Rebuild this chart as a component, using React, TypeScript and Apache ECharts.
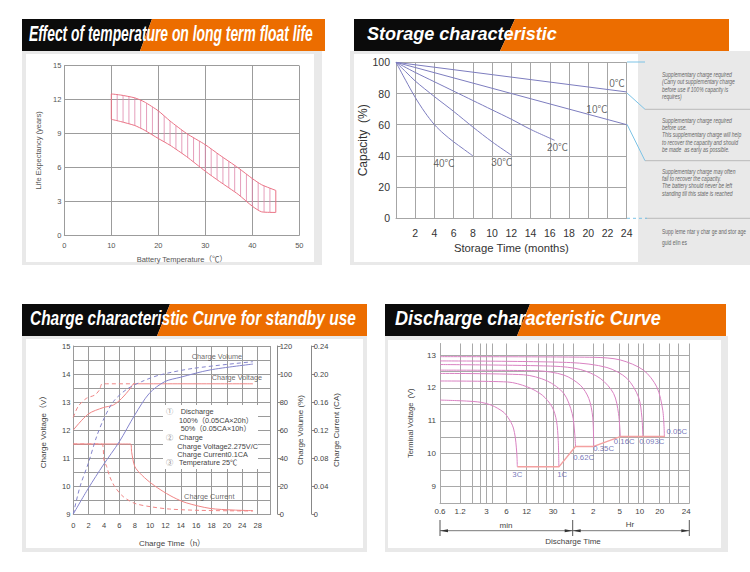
import React, { useEffect, useRef } from 'react';
import * as echarts from 'echarts';

const FONT = '"Liberation Sans", Arial, "Noto Sans CJK SC", sans-serif';

/* ---------- Panel 1: Effect of temperature on long term float life ---------- */
const tempX = [10, 12, 15, 17, 20, 22.5, 26, 30, 33, 37, 40, 42, 45];
const lifeUpper = [12.5, 12.4, 12.15, 11.8, 11.0, 10.1, 9.0, 8.0, 7.1, 5.95, 5.0, 4.45, 3.95];
const lifeLower = [10.25, 10.05, 9.7, 9.3, 8.55, 7.95, 6.95, 5.65, 4.75, 3.6, 2.55, 2.05, 2.0];
const HATCH_STEP = 1.25;

/* ---------- Panel 2: Storage characteristic ---------- */
const storage0C = [[0, 100], [12, 90.5], [24, 81]];
const storage10C = [[0, 100], [12, 80], [24, 60]];
const storage20C = [[0, 100], [2, 93.5], [4, 87.5], [6, 81.5], [8, 75.5], [10, 69.5], [12, 63.5], [14, 57], [16.5, 50]];
const storage30C = [[0, 100], [1, 94], [2, 88], [4, 78], [6, 68.5], [8, 58.5], [10, 49], [12, 40.5]];
const storage40C = [[0, 100], [1, 88.5], [2, 77.5], [3, 68], [4, 60], [5, 54], [6, 49], [7, 44.5], [8, 40]];
const storageLabels = [
  { name: '0℃', value: [23, 86.5] },
  { name: '10℃', value: [20.9, 69.5] },
  { name: '20℃', value: [16.8, 45.5] },
  { name: '30℃', value: [11, 36] },
  { name: '40℃', value: [5, 35] },
];
const sideNotes1 = ['Supplementary charge required', '(Carry out supplementary charge', 'before use if 100% capacity is', 'requires)'];
const sideNotes2 = ['Supplementary charge required', 'before use.', 'This supplementary charge will help', 'to recover the capacity and should', 'be made  as early as possible.'];
const sideNotes3 = ['Supplementary charge may often', 'fail to recover the capacity.', 'The battery should never be left', 'standing till this state is reached'];
const sideNotes4 = ['Supp leme ntar y char ge and stor age', 'guid elin es'];

/* ---------- Panel 3: Charge characteristic ---------- */
const chargeTickLabels = ['0', '2', '4', '6', '8', '10', '12', '14', '16', '18', '20', '24', '28'];
const voltage100 = [[0, 12.0], [1.95, 12.57], [3.9, 12.8], [5.2, 12.89], [6.3, 13.13], [7.45, 13.49], [7.9, 13.65], [23.4, 13.65]];
const voltage50 = [[0, 12.45], [0.65, 12.85], [1.7, 13.13], [2.8, 13.25], [3.4, 13.43], [3.8, 13.65], [7.9, 13.65]];
const current100 = [[0, 0.1], [7.45, 0.1], [7.6, 0.088], [8.0, 0.068], [8.7, 0.058], [9.9, 0.046], [11.3, 0.035], [13, 0.024], [14.7, 0.016], [17.8, 0.008], [20.8, 0.0057], [23.4, 0.0048]];
const current50 = [[0, 0.1], [3.7, 0.1], [4.0, 0.077], [4.35, 0.0676], [4.75, 0.0533], [5.4, 0.039], [6.5, 0.0248], [8, 0.0152], [10, 0.0105], [12.5, 0.0071], [16.5, 0.0052], [23.4, 0.0043]];
const volume100 = [[0, 0], [1.95, 18.3], [3.9, 35], [6, 51.7], [8, 70.7], [9.9, 86.2], [11.9, 94.5], [13.9, 97.6], [17.8, 102.9], [23.4, 107.1]];
const volume50 = [[0, 0], [0.87, 19.5], [1.95, 36.2], [3.03, 55.2], [3.9, 67.1], [5.2, 80.2], [6.93, 89], [8.87, 94.5], [11.26, 99.3], [15.6, 104], [23.4, 108.8]];
const chargeLabels = [
  { name: 'Charge Volume', value: [18.7, 14.64] },
  { name: 'Charge Voltage', value: [21.3, 13.86] },
  { name: 'Charge Current', value: [17.7, 9.64] },
];
const chargeNotes = [
  { t: '①', x: 166, y: 411.7, c: '#888' },
  { t: 'Discharge', x: 180.7, y: 411.7, c: '#444' },
  { t: '100%（0.05CA×20h）', x: 179, y: 420, c: '#444' },
  { t: '50%（0.05CA×10h）', x: 180.7, y: 428.3, c: '#444' },
  { t: '②', x: 166, y: 437.7, c: '#888' },
  { t: 'Charge', x: 179, y: 437.7, c: '#444' },
  { t: 'Charge Voltage2.275V/C', x: 177.3, y: 446, c: '#444' },
  { t: 'Charge Current0.1CA', x: 177.3, y: 454.3, c: '#444' },
  { t: '③', x: 166, y: 462.7, c: '#888' },
  { t: 'Temperature 25℃', x: 179, y: 462.7, c: '#444' },
];

/* ---------- Panel 4: Discharge characteristic (x in minutes) ---------- */
const dischargeTickMinutes = [0.6, 1.2, 3, 6, 12, 30, 60, 120, 300, 600, 1200, 3000];
const dischargeTickLabels = ['0.6', '1.2', '3', '6', '12', '30', '1', '2', '5', '10', '20', '24'];
const dischargeGridMinutes = [0.6, 1.2, 1.8, 2.4, 3, 3.6, 6, 12, 18, 24, 30, 42, 60, 120, 170, 300, 400, 570, 680, 1190, 1650, 2300, 3330];
const dis3C = [[0.6, 11.63], [1.5, 11.6], [2.5, 11.56], [3.5, 11.48], [4.4, 11.38], [5.5, 11.25], [6.3, 11.1], [7.0, 10.95], [7.6, 10.78], [8.1, 10.5], [8.4, 10.2], [8.6, 9.9], [8.7, 9.6]];
const dis1C = [[0.6, 12.21], [6.2, 12.18], [12.3, 12.03], [20.6, 11.78], [29, 11.42], [33.7, 11.0], [35.8, 10.4], [36.6, 9.6]];
const dis062C = [[0.6, 12.44], [10.7, 12.4], [24.5, 12.21], [43.5, 11.83], [58, 11.22], [63.4, 10.6], [65, 10.22]];
const dis035C = [[0.6, 12.54], [17.3, 12.52], [43.5, 12.39], [77, 12.08], [103, 11.68], [118, 11.11], [122, 10.22]];
const dis016C = [[0.6, 12.71], [30.8, 12.66], [77, 12.56], [153, 12.29], [243, 11.83], [288, 11.22], [306, 10.52]];
const dis0093C = [[0.6, 12.82], [54.7, 12.77], [193, 12.62], [385, 12.29], [575, 11.72], [646, 11.11], [668, 10.52]];
const dis005C = [[0.6, 12.95], [122, 12.93], [306, 12.85], [682, 12.54], [1081, 12.03], [1330, 11.32], [1407, 10.52]];
const disEnd = [[8.7, 9.6], [36.6, 9.6], [65, 10.22], [122, 10.22], [306, 10.52], [1440, 10.52]];
const dischargeLabels = [
  { name: '3C', value: [8.7, 9.38] },
  { name: '1C', value: [41, 9.38] },
  { name: '0.62C', value: [86.5, 9.89] },
  { name: '0.35C', value: [172, 10.15] },
  { name: '0.16C', value: [351, 10.38] },
  { name: '0.093C', value: [912, 10.38] },
  { name: '0.05C', value: [2160, 10.66] },
];

const lg = (m: number) => Math.log10(m);
const toLog = (arr: number[][]) => arr.map((p) => [lg(p[0]), p[1]]);

function measureWidth(text: string, font: string): number {
  const c = document.createElement('canvas');
  const ctx = c.getContext('2d');
  if (!ctx) return text.length * 10;
  ctx.font = font;
  return ctx.measureText(text).width || text.length * 10;
}

function axisBase(color: string, labelColor: string, fontSize: number) {
  return {
    axisLine: { show: true, onZero: false, lineStyle: { color, width: 1 } },
    axisTick: { show: false },
    splitLine: { show: true, lineStyle: { color, width: 1 } },
    axisLabel: { color: labelColor, fontSize, fontFamily: FONT },
    nameTextStyle: { color: labelColor, fontFamily: FONT },
  };
}

function labelSeries(xi: number, yi: number, data: any[], color: string, fontSize: number, log = false) {
  return {
    type: 'scatter',
    xAxisIndex: xi,
    yAxisIndex: yi,
    symbolSize: 0,
    silent: true,
    z: 5,
    data: data.map((d) => ({ name: d.name, value: log ? [lg(d.value[0]), d.value[1]] : d.value })),
    label: { show: true, position: 'inside', formatter: '{b}', color, fontSize, fontFamily: FONT },
  };
}

function lineSeries(xi: number, yi: number, data: number[][], color: string, opts: any = {}) {
  return {
    type: 'line',
    xAxisIndex: xi,
    yAxisIndex: yi,
    data,
    symbol: 'none',
    silent: true,
    smooth: opts.smooth ?? 0,
    lineStyle: { color, width: opts.width ?? 1, type: opts.dashed ? [4, 3] : 'solid' },
    z: 3,
  };
}

function buildOption() {
  const graphic: any[] = [];
  // panel frames
  const frames = [
    { gx: 22, gy: 51, gw: 300, gh: 214, wx: 26, wy: 54, ww: 288, wh: 208 },
    { gx: 350, gy: 51, gw: 400, gh: 214, wx: 354, wy: 54, ww: 284, wh: 208 },
    { gx: 22, gy: 336, gw: 345, gh: 216, wx: 26, wy: 339, ww: 337, wh: 209 },
    { gx: 385, gy: 336, gw: 343, gh: 216, wx: 388, wy: 340, ww: 333, wh: 208 },
  ];
  frames.forEach((f) => {
    graphic.push({ type: 'rect', z: -2, silent: true, shape: { x: f.gx, y: f.gy, width: f.gw, height: f.gh }, style: { fill: '#e9e9e9' } });
    graphic.push({ type: 'rect', z: -1, silent: true, shape: { x: f.wx, y: f.wy, width: f.ww, height: f.wh }, style: { fill: '#ffffff' } });
  });
  // banners
  const banners = [
    { x0: 22, x1: 325, y0: 19, y1: 51, st: 152, sb: 140 },
    { x0: 354, x1: 729, y0: 19, y1: 51, st: 515, sb: 500 },
    { x0: 22, x1: 367, y0: 304, y1: 336, st: 170, sb: 157 },
    { x0: 385, x1: 726, y0: 304, y1: 336, st: 530, sb: 517 },
  ];
  banners.forEach((b) => {
    graphic.push({ type: 'polygon', z: 10, silent: true, shape: { points: [[b.x0, b.y0], [b.st, b.y0], [b.sb, b.y1], [b.x0, b.y1]] }, style: { fill: '#0b0b0b' } });
    graphic.push({ type: 'polygon', z: 10, silent: true, shape: { points: [[b.st, b.y0], [b.x1, b.y0], [b.x1, b.y1], [b.sb, b.y1]] }, style: { fill: '#ec6d00' } });
  });
  const titles = [
    { text: 'Effect of temperature on long term float life', x: 29, y: 33, width: 284, size: 22 },
    { text: 'Storage characteristic', x: 367, y: 33, width: 190, size: 19 },
    { text: 'Charge characteristic Curve for standby use', x: 30, y: 318, width: 326, size: 21 },
    { text: 'Discharge characteristic Curve', x: 395, y: 318, width: 266, size: 20 },
  ];
  titles.forEach((t) => {
    const w = measureWidth(t.text, `italic bold ${t.size}px "Liberation Sans"`);
    graphic.push({
      type: 'text', z: 11, silent: true, x: t.x, y: t.y, scaleX: t.width / w,
      style: { text: t.text, fontSize: t.size, fontWeight: 'bold', fontStyle: 'italic', fontFamily: '"Liberation Sans", Arial, sans-serif', fill: '#ffffff', align: 'left', verticalAlign: 'middle' },
    });
  });

  // storage side panel
  [109.3, 160.7, 218.3].forEach((y) => {
    graphic.push({ type: 'line', z: 1, silent: true, shape: { x1: 645, y1: y, x2: 750, y2: y }, style: { stroke: '#b9b9b9', lineWidth: 1 } });
  });
  const blue = '#7cc3e6';
  graphic.push({ type: 'line', z: 1, silent: true, shape: { x1: 627, y1: 62, x2: 645, y2: 62 }, style: { stroke: blue, lineWidth: 1 } });
  graphic.push({ type: 'line', z: 1, silent: true, shape: { x1: 627, y1: 93, x2: 645, y2: 109.3 }, style: { stroke: blue, lineWidth: 1 } });
  graphic.push({ type: 'line', z: 1, silent: true, shape: { x1: 627, y1: 124.3, x2: 645, y2: 160.7 }, style: { stroke: blue, lineWidth: 1 } });
  graphic.push({ type: 'line', z: 1, silent: true, shape: { x1: 627, y1: 218.3, x2: 647, y2: 218.3 }, style: { stroke: blue, lineWidth: 1, lineDash: [3, 3] } });
  const noteFont = 6.5;
  const noteScale = 70 / measureWidth(sideNotes1[0], `italic ${noteFont}px "Liberation Sans"`);
  const pushNotes = (lines: string[], ys: number[], italic: boolean, scale: number) => {
    lines.forEach((t, i) => {
      graphic.push({
        type: 'text', z: 2, silent: true, x: 662, y: ys[i], scaleX: scale,
        style: { text: t, fontSize: noteFont, fontStyle: italic ? 'italic' : 'normal', fontFamily: '"Liberation Sans", Arial, sans-serif', fill: '#666', align: 'left', verticalAlign: 'middle' },
      });
    });
  };
  pushNotes(sideNotes1, [75, 82, 89.3, 96.5], true, noteScale);
  pushNotes(sideNotes2, [120.7, 127.5, 135, 142.7, 150], true, noteScale);
  pushNotes(sideNotes3, [171.7, 178.5, 186, 193.3], true, noteScale);
  const note4Scale = 84 / measureWidth(sideNotes4[0], `${noteFont}px "Liberation Sans"`);
  pushNotes(sideNotes4, [231.7, 242.3], false, note4Scale);

  // charge legend box
  graphic.push({ type: 'rect', z: 6, silent: true, shape: { x: 163, y: 405, width: 95, height: 64 }, style: { fill: '#ffffff' } });
  chargeNotes.forEach((n) => {
    graphic.push({
      type: 'text', z: 7, silent: true, x: n.x, y: n.y,
      style: { text: n.t, fontSize: 7.3, fontFamily: FONT, fill: n.c, align: 'left', verticalAlign: 'middle' },
    });
  });

  // discharge bracket
  const bc = '#555';
  [440, 572.7, 689.3].forEach((x) => {
    graphic.push({ type: 'line', z: 2, silent: true, shape: { x1: x, y1: 520, x2: x, y2: 536 }, style: { stroke: bc, lineWidth: 1 } });
  });
  graphic.push({ type: 'line', z: 2, silent: true, shape: { x1: 440, y1: 530.7, x2: 689.3, y2: 530.7 }, style: { stroke: bc, lineWidth: 0.8 } });
  const arrows = [[440, 1], [572.7, -1], [572.7, 1], [689.3, -1]];
  arrows.forEach(([x, d]) => {
    graphic.push({ type: 'polygon', z: 2, silent: true, shape: { points: [[x, 530.7], [x + d * 8, 529.2], [x + d * 8, 532.2]] }, style: { fill: '#333' } });
  });
  const bText = [
    { t: 'min', x: 506, y: 525 },
    { t: 'Hr', x: 630, y: 524 },
    { t: 'Discharge Time', x: 573, y: 541.7 },
  ];
  bText.forEach((b) => {
    graphic.push({ type: 'text', z: 2, silent: true, x: b.x, y: b.y, style: { text: b.t, fontSize: 8, fontFamily: FONT, fill: '#444', align: 'center', verticalAlign: 'middle' } });
  });

  const lifeColor = '#ea7385';
  const hatchColor = '#de86ab';
  const storColor = '#7d7dbf';
  const red = '#f08585';
  const blueC = '#8585cc';
  const pink = '#d982c2';

  const chargeXFormatter = (v: number) => {
    const i = Math.round(v / 2);
    return Math.abs(v - i * 2) < 1e-6 && chargeTickLabels[i] !== undefined ? chargeTickLabels[i] : '';
  };
  const dischargeXFormatter = (v: number) => {
    let best = '';
    let bd = 1e9;
    dischargeTickMinutes.forEach((m, i) => {
      const d = Math.abs(lg(m) - v);
      if (d < bd) { bd = d; best = dischargeTickLabels[i]; }
    });
    return best;
  };

  return {
    animation: false,
    backgroundColor: '#ffffff',
    textStyle: { fontFamily: FONT },
    tooltip: { show: false },
    grid: [
      { left: 64.3, top: 65.7, width: 235, height: 169.3, outerBoundsMode: 'none' },
      { left: 396, top: 62.3, width: 230.7, height: 156, outerBoundsMode: 'none' },
      { left: 73.3, top: 346, width: 197.4, height: 168, outerBoundsMode: 'none' },
      { left: 440, top: 343.5, width: 249.3, height: 159.5, outerBoundsMode: 'none' },
    ],
    xAxis: [
      {
        ...axisBase('#9c9c9c', '#555', 7.5), type: 'value', gridIndex: 0, min: 0, max: 50, interval: 10,
        axisLabel: { color: '#555', fontSize: 7.5, margin: 7, fontFamily: FONT },
        name: 'Battery Temperature（℃）', nameLocation: 'middle', nameGap: 21,
        nameTextStyle: { color: '#555', fontSize: 7.5, fontFamily: FONT },
      },
      {
        ...axisBase('#a6a6a6', '#333', 10.5), type: 'value', gridIndex: 1, min: 0, max: 24, interval: 2,
        axisLabel: { color: '#333', fontSize: 10.5, margin: 9, fontFamily: FONT, formatter: (v: number) => (v === 0 ? '' : String(v)) },
        name: 'Storage Time (months)', nameLocation: 'middle', nameGap: 24,
        nameTextStyle: { color: '#333', fontSize: 11.3, fontFamily: FONT },
      },
      {
        ...axisBase('#9a9a9a', '#444', 7.5), type: 'value', gridIndex: 2, min: 0, max: 25.7, interval: 2,
        axisLabel: { color: '#444', fontSize: 7.5, margin: 8, fontFamily: FONT, formatter: chargeXFormatter },
        name: 'Charge Time（h）', nameLocation: 'middle', nameGap: 25,
        nameTextStyle: { color: '#444', fontSize: 8, fontFamily: FONT },
      },
      {
        ...axisBase('#a9a9a9', '#444', 8), type: 'value', gridIndex: 3, min: lg(0.6), max: lg(3330),
        axisTick: { show: false, customValues: dischargeGridMinutes.map(lg) },
        axisLabel: { color: '#444', fontSize: 8, margin: 4, fontFamily: FONT, customValues: dischargeTickMinutes.map(lg), formatter: dischargeXFormatter },
      },
    ],
    yAxis: [
      {
        ...axisBase('#9c9c9c', '#555', 7.5), type: 'value', gridIndex: 0, min: 0, max: 15, interval: 3,
        axisLabel: { color: '#555', fontSize: 7.5, margin: 3, fontFamily: FONT },
        name: 'Life Expectancy (years)', nameLocation: 'middle', nameGap: 22,
        nameTextStyle: { color: '#555', fontSize: 7.5, fontFamily: FONT },
      },
      {
        ...axisBase('#a6a6a6', '#333', 10.5), type: 'value', gridIndex: 1, min: 0, max: 100, interval: 20,
        axisLabel: { color: '#333', fontSize: 10.5, margin: 6, fontFamily: FONT },
        name: 'Capacity  (%)', nameLocation: 'middle', nameGap: 26,
        nameTextStyle: { color: '#333', fontSize: 12, fontFamily: FONT },
      },
      {
        ...axisBase('#9a9a9a', '#444', 7.5), type: 'value', gridIndex: 2, min: 9, max: 15, interval: 0.5,
        axisLabel: { color: '#444', fontSize: 7.5, margin: 3, fontFamily: FONT, formatter: (v: number) => (Math.abs(v - Math.round(v)) < 1e-6 ? String(Math.round(v)) : '') },
        name: 'Charge Voltage（V）', nameLocation: 'middle', nameGap: 26,
        nameTextStyle: { color: '#444', fontSize: 8, fontFamily: FONT },
      },
      {
        type: 'value', gridIndex: 2, position: 'right', offset: 7, min: 0, max: 120, interval: 20,
        axisLine: { show: true, onZero: false, lineStyle: { color: '#888' } },
        axisTick: { show: true, length: 3, lineStyle: { color: '#888' } },
        splitLine: { show: false },
        axisLabel: { color: '#444', fontSize: 7.5, margin: 2, fontFamily: FONT },
        name: 'Charge Volume (%)', nameLocation: 'middle', nameGap: 17,
        nameTextStyle: { color: '#444', fontSize: 8, fontFamily: FONT },
      },
      {
        type: 'value', gridIndex: 2, position: 'right', offset: 41, min: 0, max: 0.24, interval: 0.04,
        axisLine: { show: true, onZero: false, lineStyle: { color: '#888' } },
        axisTick: { show: true, length: 3, lineStyle: { color: '#888' } },
        splitLine: { show: false },
        axisLabel: { color: '#444', fontSize: 7.5, margin: 2, fontFamily: FONT, formatter: (v: number) => (v === 0 ? '0' : v.toFixed(2)) },
        name: 'Charge Current (CA)', nameLocation: 'middle', nameGap: 21,
        nameTextStyle: { color: '#444', fontSize: 8, fontFamily: FONT },
      },
      {
        ...axisBase('#a9a9a9', '#444', 8), type: 'value', gridIndex: 3, min: 8.5, max: 13.35,
        axisTick: { show: false, customValues: [8.5, 9, 9.5, 10, 10.5, 11, 11.5, 12, 12.5, 13] },
        axisLabel: { color: '#444', fontSize: 8, margin: 4, fontFamily: FONT, customValues: [9, 10, 11, 12, 13] },
        name: 'Terminal Voltage  (V)', nameLocation: 'middle', nameGap: 26,
        nameTextStyle: { color: '#444', fontSize: 7.5, fontFamily: FONT },
      },
    ],
    series: [
      // Panel 1
      {
        type: 'custom', coordinateSystem: 'cartesian2d', xAxisIndex: 0, yAxisIndex: 0, silent: true, z: 2,
        data: [[tempX[0], lifeLower[0]]],
        renderItem: (_p: any, api: any) => {
          const upper = tempX.map((x, i) => api.coord([x, lifeUpper[i]]));
          const lower = tempX.map((x, i) => api.coord([x, lifeLower[i]]));
          const poly = upper.concat(lower.slice().reverse());
          const x0 = tempX[0];
          const x1 = tempX[tempX.length - 1];
          const yTop = api.coord([x0, 15])[1];
          const yBot = api.coord([x0, 0])[1];
          const lines: any[] = [];
          for (let x = x0 + HATCH_STEP; x < x1 - 0.01; x += HATCH_STEP) {
            const px = api.coord([x, 0])[0];
            lines.push({ type: 'line', shape: { x1: px, y1: yTop, x2: px, y2: yBot }, style: { stroke: hatchColor, lineWidth: 0.8 } });
          }
          const n = tempX.length - 1;
          return {
            type: 'group',
            children: [
              { type: 'group', children: lines, clipPath: { type: 'polygon', shape: { points: poly } } },
              { type: 'line', shape: { x1: upper[0][0], y1: upper[0][1], x2: lower[0][0], y2: lower[0][1] }, style: { stroke: lifeColor, lineWidth: 1 } },
              { type: 'line', shape: { x1: upper[n][0], y1: upper[n][1], x2: lower[n][0], y2: lower[n][1] }, style: { stroke: lifeColor, lineWidth: 1 } },
            ],
          };
        },
      },
      lineSeries(0, 0, tempX.map((x, i) => [x, lifeUpper[i]]), lifeColor, { smooth: 0.2 }),
      lineSeries(0, 0, tempX.map((x, i) => [x, lifeLower[i]]), lifeColor, { smooth: 0.2 }),
      // Panel 2
      lineSeries(1, 1, storage0C, storColor),
      lineSeries(1, 1, storage10C, storColor),
      lineSeries(1, 1, storage20C, storColor, { smooth: 0.3 }),
      lineSeries(1, 1, storage30C, storColor, { smooth: 0.3 }),
      lineSeries(1, 1, storage40C, storColor, { smooth: 0.3 }),
      labelSeries(1, 1, storageLabels, '#444', 10),
      // Panel 3
      lineSeries(2, 2, voltage100, red, { smooth: 0.3 }),
      lineSeries(2, 2, voltage50, red, { smooth: 0.3, dashed: true }),
      lineSeries(2, 4, current100, red, { smooth: 0.3 }),
      lineSeries(2, 4, current50, red, { smooth: 0.3, dashed: true }),
      lineSeries(2, 3, volume100, blueC, { smooth: 0.3 }),
      lineSeries(2, 3, volume50, blueC, { smooth: 0.3, dashed: true }),
      labelSeries(2, 2, chargeLabels, '#444', 7.3),
      // Panel 4
      lineSeries(3, 5, toLog(dis3C), pink, { smooth: 0.3 }),
      lineSeries(3, 5, toLog(dis1C), pink, { smooth: 0.3 }),
      lineSeries(3, 5, toLog(dis062C), pink, { smooth: 0.3 }),
      lineSeries(3, 5, toLog(dis035C), pink, { smooth: 0.3 }),
      lineSeries(3, 5, toLog(dis016C), pink, { smooth: 0.3 }),
      lineSeries(3, 5, toLog(dis0093C), pink, { smooth: 0.3 }),
      lineSeries(3, 5, toLog(dis005C), pink, { smooth: 0.3 }),
      lineSeries(3, 5, toLog(disEnd), '#f4a0a0', { width: 1.4 }),
      labelSeries(3, 5, dischargeLabels, '#5454a8', 7.8, true),
    ],
    graphic: { elements: graphic },
  };
}

export default function App() {
  const ref = useRef<HTMLDivElement>(null);
  useEffect(() => {
    if (!ref.current) return;
    const chart = echarts.init(ref.current, undefined, { renderer: 'svg', width: 750, height: 572 });
    chart.setOption(buildOption() as any);
    return () => chart.dispose();
  }, []);
  return <div ref={ref} style={{ position: 'absolute', left: 0, top: 0, width: 750, height: 572 }} />;
}
